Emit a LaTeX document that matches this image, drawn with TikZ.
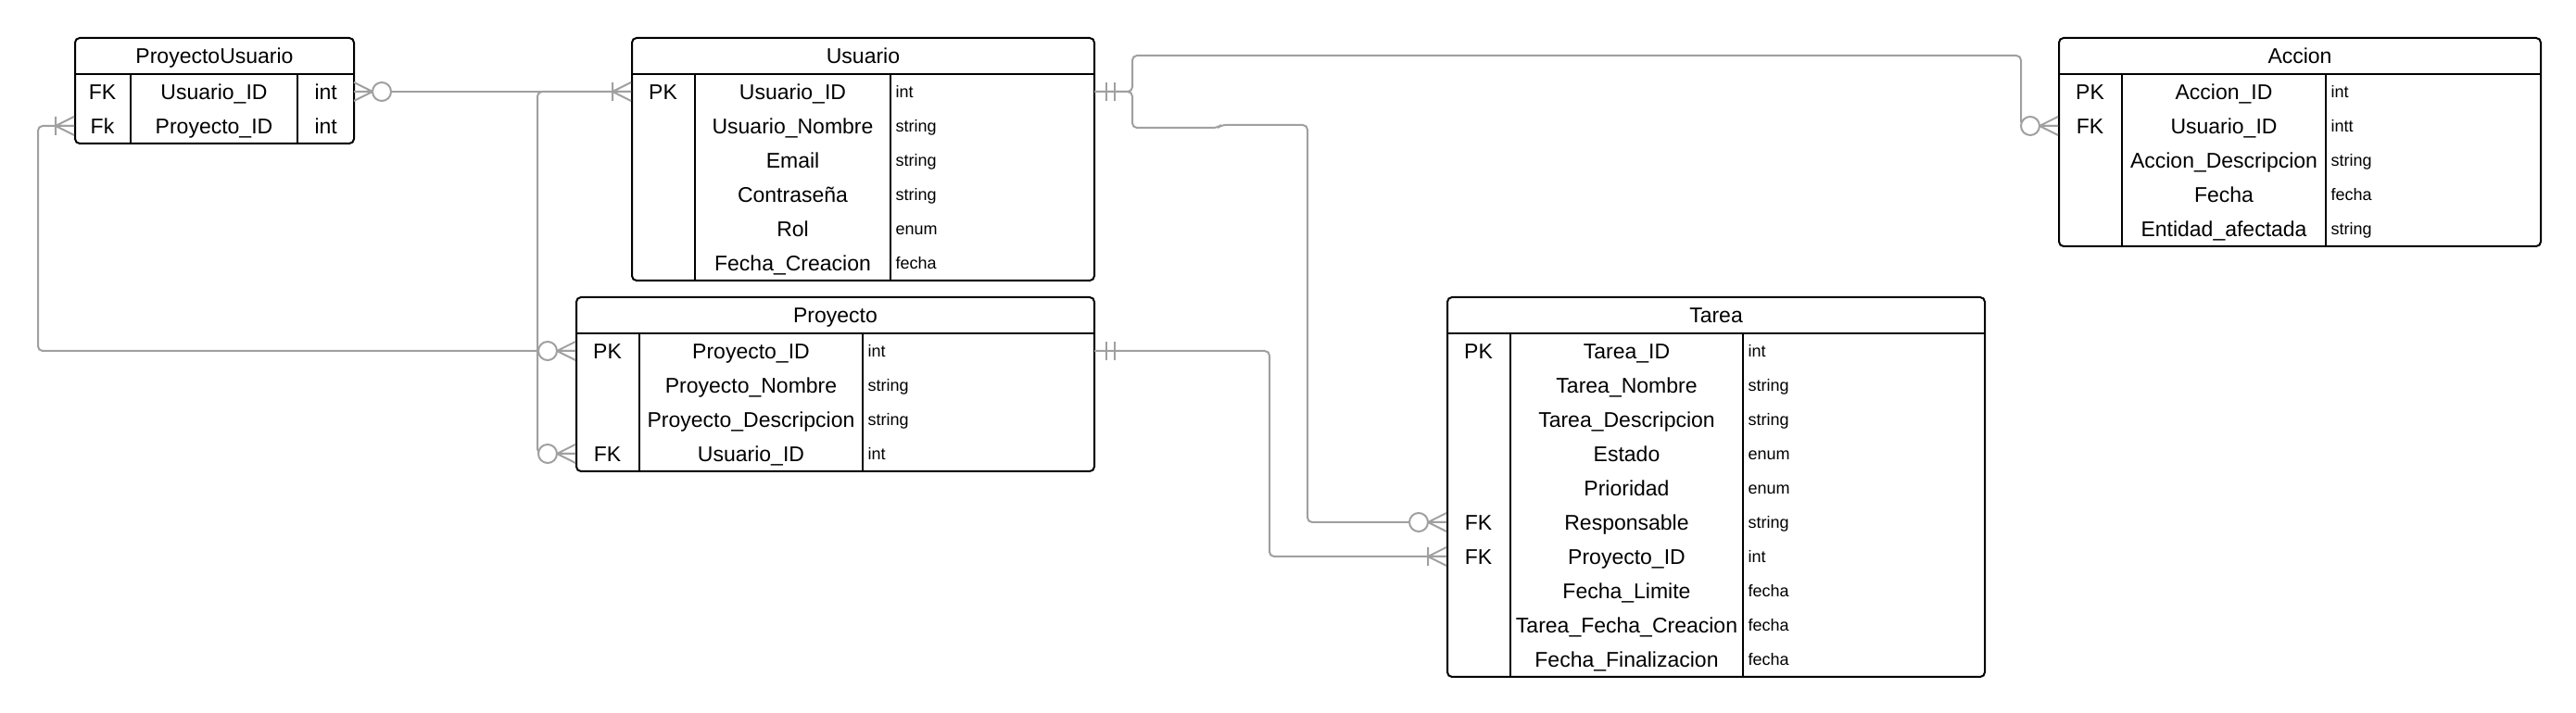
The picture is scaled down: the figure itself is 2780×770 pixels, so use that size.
\documentclass[tikz,border=0pt]{standalone}
\usepackage{fontspec}
\setmainfont{Liberation Sans}
\usepackage{xcolor}
\definecolor{erblack}{RGB}{0,0,0}
\definecolor{relgrey}{RGB}{160,160,160}
\usetikzlibrary{calc}
\tikzset{
  tbl/.style={draw=erblack,line width=0.8pt,rounded corners=2pt,anchor=north west,inner sep=0pt},
  divline/.style={draw=erblack,line width=0.8pt},
  ttl/.style={font=\fontsize{9.2}{11}\selectfont,inner sep=0pt,text height=6.6pt,text depth=0pt},
  fld/.style={font=\fontsize{9.2}{11}\selectfont,inner sep=0pt,text height=6.6pt,text depth=0pt},
  typ/.style={font=\fontsize{7.2}{9}\selectfont,inner sep=0pt,anchor=west,text height=5.2pt,text depth=0pt},
  rowbox/.style={inner sep=0pt,anchor=north west,minimum height=14.8pt},
  rel/.style={draw=relgrey,line width=0.8pt},
  conn/.style={rel,rounded corners=2pt},
  zeromany/.pic={
    \draw[rel] (0,-10) -- (20,0) -- (0,10) (0,0) -- (20,0);
    \draw[rel,fill=white] (30,0) circle[radius=4pt];
  },
  onemany/.pic={
    \draw[rel] (0,-10) -- (20,0) -- (0,10) (0,0) -- (20,0) (20,-10) -- (20,10);
  },
  oneonly/.pic={
    \draw[rel] (0,0) -- (25,0) (13,-10) -- (13,10) (22,-10) -- (22,10);
  },
}
% #1 name, #2 title, #3/#4 top left, #5 width, #6 key col, #7 field col, #8 rows, #9 key/field/type list
\newcommand{\ertable}[9]{%
  \node[tbl,minimum width=#5*0.4pt,minimum height=(40+#8*37)*0.4pt] (#1) at (#3,#4) {};
  \node[ttl] (#1-title) at ($(#1.north)+(0,20)$) {#2};
  \draw[divline] ($(#1.north west)+(0,40)$) -- ($(#1.north east)+(0,40)$);
  \draw[divline] ($(#1.north west)+(#6,40)$) -- ($(#1.south west)+(#6,0)$);
  \draw[divline] ($(#1.north west)+(#6+#7,40)$) -- ($(#1.south west)+(#6+#7,0)$);
  \foreach \k/\f/\t [count=\i] in {#9}{
    \node[rowbox,minimum width=#5*0.4pt] (#1-\i) at ($(#1.north west)+(0,3+37*\i)$) {};
    \node[fld] (#1-\i-k) at ($(#1-\i.west)+(#6/2,0)$) {\k};
    \node[fld] (#1-\i-f) at ($(#1-\i.west)+(#6+#7/2,0)$) {\f};
    \node[typ] (#1-\i-t) at ($(#1-\i.west)+(#6+#7+5,0)$) {\t};
  }
}

\begin{document}
\begin{tikzpicture}[x=0.4pt,y=-0.4pt]
  \useasboundingbox (0,0) rectangle (2780,770);

  % tables
  \begin{scope}[typ/.style={fld,anchor=west,xshift=5.2pt}]
    \ertable{pu}{ProyectoUsuario}{80}{40}{301}{61}{180}{2}{FK/Usuario\_ID/int,
      Fk/Proyecto\_ID/int}
  \end{scope}
  \ertable{usuario}{Usuario}{681}{40}{499}{69}{211}{6}{PK/Usuario\_ID/int,
    /Usuario\_Nombre/string,
    /Email/string,
    /Contraseña/string,
    /Rol/enum,
    /Fecha\_Creacion/fecha}
  \ertable{accion}{Accion}{2221}{40}{520}{69}{220}{5}{PK/Accion\_ID/int,
    FK/Usuario\_ID/intt,
    /Accion\_Descripcion/string,
    /Fecha/fecha,
    /Entidad\_afectada/string}
  \ertable{proyecto}{Proyecto}{621}{320}{559}{69}{241}{4}{PK/Proyecto\_ID/int,
    /Proyecto\_Nombre/string,
    /Proyecto\_Descripcion/string,
    FK/Usuario\_ID/int}
  \ertable{tarea}{Tarea}{1561}{320}{580}{69}{251}{10}{PK/Tarea\_ID/int,
    /Tarea\_Nombre/string,
    /Tarea\_Descripcion/string,
    /Estado/enum,
    /Prioridad/enum,
    FK/Responsable/string,
    FK/Proyecto\_ID/int,
    /Fecha\_Limite/fecha,
    /Tarea\_Fecha\_Creacion/fecha,
    /Fecha\_Finalizacion/fecha}

  % bends
  \coordinate (leftbus) at (41,0);
  \coordinate (midbus) at (580,0);
  \coordinate (forktop) at (1222,60);
  \coordinate (forklow) at (1222,138);
  \coordinate (jogA) at (1314,138);
  \coordinate (jogB) at (1318,135);
  \coordinate (accdrop) at (2181,60);
  \coordinate (tardrop) at (1411,135);
  \coordinate (projdrop) at (1370,0);

  % relations
  \draw[conn] (pu-1.east) -- (usuario-1.west);
  \draw[conn] (usuario-1.west) -| (midbus |- proyecto-4.west) -- (proyecto-4.west);
  \draw[conn] (proyecto-1.west) -| (leftbus |- pu-2.west) -- (pu-2.west);
  \draw[conn] (usuario-1.east) -| (forktop) -- (accdrop) |- (accion-2.west);
  \draw[conn] (usuario-1.east) -| (forklow) -- (jogA) -- (jogB) -- (tardrop) |- (tarea-6.west);
  \draw[conn] (proyecto-1.east) -| (projdrop |- tarea-7.west) -- (tarea-7.west);

  % ends
  \pic at (pu-1.east) {zeromany};
  \pic[rotate=180] at (usuario-1.west) {onemany};
  \pic[rotate=180] at (proyecto-4.west) {zeromany};
  \pic[rotate=180] at (proyecto-1.west) {zeromany};
  \pic[rotate=180] at (pu-2.west) {onemany};
  \pic at (usuario-1.east) {oneonly};
  \pic[rotate=180] at (accion-2.west) {zeromany};
  \pic[rotate=180] at (tarea-6.west) {zeromany};
  \pic at (proyecto-1.east) {oneonly};
  \pic[rotate=180] at (tarea-7.west) {onemany};
\end{tikzpicture}
\end{document}
